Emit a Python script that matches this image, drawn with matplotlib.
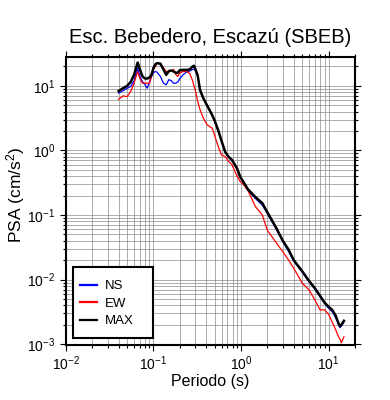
import numpy as np
import matplotlib
matplotlib.use('Agg')
import matplotlib.pyplot as plt
from matplotlib.ticker import LogLocator
from matplotlib.patches import Rectangle

plt.rcParams['font.family'] = ['Liberation Sans', 'DejaVu Sans']
plt.rcParams['mathtext.fontset'] = 'custom'
plt.rcParams['mathtext.rm'] = 'Liberation Sans'
plt.rcParams['mathtext.it'] = 'Liberation Sans:italic'

# periods (s)
periodo = [0.04, 0.045, 0.05, 0.055, 0.06, 0.066, 0.07, 0.075, 0.08, 0.085,
           0.09, 0.095, 0.1, 0.105, 0.11, 0.12, 0.13, 0.14, 0.15, 0.16,
           0.17, 0.18, 0.19, 0.2, 0.22, 0.24, 0.26, 0.28, 0.29, 0.3,
           0.32, 0.34, 0.37, 0.41, 0.47, 0.5, 0.556, 0.6, 0.66, 0.72,
           0.79, 0.9, 0.98, 1.06, 1.2, 1.46, 1.75, 2.0, 2.5, 3.0,
           3.5, 4.0, 5.0, 6.0, 7.0, 8.0, 9.0, 10, 11, 12,
           13, 13.5, 14, 15]

ns = [7.7, 8.4, 9.2, 9.8, 12, 18.8, 14, 11.6, 10.5, 9.2,
      11.5, 13.9, 16, 16.7, 16.3, 14, 11, 10.4, 12.5, 12,
      11, 11, 11.5, 13, 15, 16.5, 17, 18, 18, 17.5,
      14.3, 8.6, 6.4, 4.9, 3.45, 2.85, 1.9, 1.38, 0.93, 0.78,
      0.69, 0.51, 0.38, 0.32, 0.24, 0.18, 0.143, 0.105, 0.062, 0.039,
      0.027, 0.0195, 0.013, 0.0092, 0.0071, 0.0054, 0.0043, 0.0036, 0.0032, 0.0026,
      0.002, 0.0018, 0.0019, 0.0022]

ew = [6.2, 7.0, 6.8, 8.2, 11, 16.7, 13, 11, 11, 11,
      11, 14, 18, 19.8, 22.5, 22.5, 19, 16.7, 16.5, 17,
      18, 15, 14, 16, 16.7, 16.7, 15.5, 12, 10, 8.7,
      5.8, 4.3, 3.2, 2.5, 2.2, 1.7, 1.1, 0.85, 0.8, 0.68,
      0.6, 0.4, 0.33, 0.3, 0.24, 0.135, 0.1, 0.058, 0.038, 0.027,
      0.02, 0.015, 0.0088, 0.0069, 0.0048, 0.0034, 0.0034, 0.0029, 0.0022, 0.0017,
      0.0013, 0.0012, 0.00105, 0.0013]

psa_max = [8.3, 9.2, 10.0, 11.5, 14.8, 23, 18, 14, 13, 13,
           13.5, 14.8, 19, 21.5, 22.5, 22, 18, 14.8, 17, 17.3,
           16.7, 16, 16, 17.5, 17.7, 17.7, 18, 20, 20.5, 18.5,
           14.5, 8.7, 6.5, 5.0, 3.5, 2.9, 1.95, 1.4, 0.95, 0.8,
           0.71, 0.53, 0.39, 0.33, 0.25, 0.19, 0.153, 0.11, 0.065, 0.04,
           0.029, 0.020, 0.0135, 0.0095, 0.0073, 0.0056, 0.0044, 0.0038, 0.0034, 0.0028,
           0.0021, 0.0019, 0.002, 0.0023]

fig = plt.figure(figsize=(3.9, 4.0), dpi=100)
ax = fig.add_axes([0.169, 0.1375, 0.741, 0.72])

ax.plot(periodo, ns, color='blue', lw=0.9, label='NS')
ax.plot(periodo, ew, color='red', lw=0.9, label='EW')
ax.plot(periodo, psa_max, color='black', lw=1.8, label='MAX')

ax.set_xscale('log')
ax.set_yscale('log')
ax.set_xlim(0.01, 20)
ax.set_ylim(0.00097, 28)

ax.xaxis.set_minor_locator(LogLocator(base=10, subs=np.arange(2, 10)))
ax.yaxis.set_minor_locator(LogLocator(base=10, subs=np.arange(2, 10)))
ax.grid(True, which='both', color='#8c8c8c', lw=0.5)
ax.set_axisbelow(True)

ax.tick_params(which='both', direction='out', top=True, right=True,
               labeltop=False, labelright=False, labelsize=10, width=0.8)
ax.tick_params(which='major', length=4)
ax.tick_params(which='minor', length=2)
ax.tick_params(axis='x', which='major', pad=2.5)
for s in ax.spines.values():
    s.set_linewidth(1.5)

ax.set_title('Esc. Bebedero, Escazú (SBEB)', fontsize=14.5, pad=10)
ax.set_xlabel('Periodo (s)', fontsize=11.5)
ax.set_ylabel('PSA (cm/s$^2$)', fontsize=12.5)
ax.xaxis.set_label_coords(0.5, -0.1)
ax.yaxis.set_label_coords(-0.135, 0.52)

# legend box drawn by hand, entries inside without frame
box = Rectangle((0.024, 0.024), 0.277, 0.247, transform=ax.transAxes,
                facecolor='white', edgecolor='black', lw=1.5, zorder=4)
ax.add_patch(box)
leg = ax.legend(loc='upper left', bbox_to_anchor=(0.05, 0.225), fontsize=9.5,
                frameon=False, borderpad=0, borderaxespad=0,
                handlelength=1.25, handletextpad=0.6, labelspacing=0.4)
leg.set_zorder(5)
for h in leg.legend_handles:
    h.set_linewidth(1.6)

fig.savefig('out.png', dpi=100)
